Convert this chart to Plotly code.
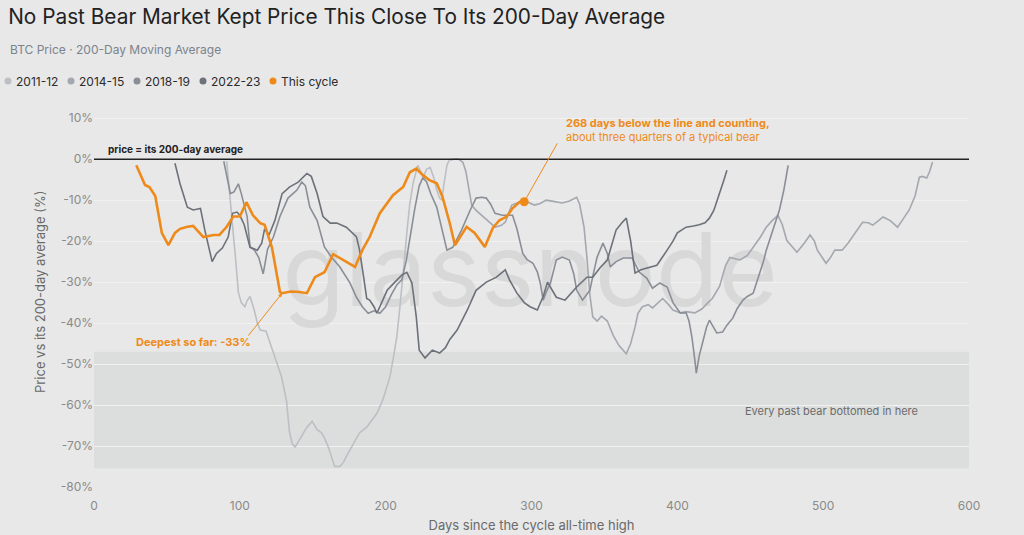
import plotly.graph_objects as go

# days since the cycle ATH and distance of price from its 200-day average (%)
days_2011 = [91, 93, 95, 97, 99, 101, 103.5, 105, 107, 110, 112, 114, 118, 120, 122.5, 125,
             128.5, 130, 132, 134, 136, 138, 141, 144, 146, 149.6, 153, 156, 158, 160.6, 163,
             165, 168.6, 171, 173, 177.7, 182, 187, 191, 194, 198, 201, 203, 205.5, 207.6,
             209.5, 211, 213, 214.5, 216.5, 218.8, 221, 222, 224, 226, 228, 230.5, 233, 235,
             237, 238.5, 240, 242, 243.5]
vals_2011 = [-0.5, -8, -16, -24, -32.5, -35, -36, -34.5, -33.5, -37, -40, -41.7, -42, -44, -46.6,
             -49.5, -53, -55.5, -59, -66.5, -69.5, -70.2, -68.5, -66.5, -65.4, -64, -66, -66.8,
             -68, -70.2, -73, -75, -75, -74, -72.6, -69.4, -66.8, -65.4, -63.5, -62, -58.8, -55.5,
             -53, -48, -43.4, -37, -32, -24, -18, -11, -5.9, -2.5, -1.5, -3, -4.2, -2.5, -2,
             -4.5, -7.5, -9.5, -10, -6, -1.5, -0.3]

days_2014 = [244, 247, 250, 253, 255, 257, 259, 262, 266, 270, 275, 279, 282, 286.5, 292, 295,
             298, 302, 306, 310, 315, 321, 326, 331, 333, 336, 338, 340, 342, 345, 348, 352, 356,
             360, 365, 368, 371, 373, 376, 380, 383, 387, 390, 394, 397, 402, 406, 412, 417, 421,
             424, 429, 433, 436, 440, 443, 448, 452, 457, 461, 465, 469, 472, 475, 479, 482, 487,
             491, 494, 496, 502, 505, 508, 513, 517, 520, 524, 527, 531, 534, 538, 541, 546, 551,
             555, 559, 563, 566, 568, 571, 573, 575]
vals_2014 = [-0.2, 0, 0, -0.8, -3, -7.5, -11.2, -12.5, -13.7, -15, -16.6, -16.2, -15.4, -11.2,
             -10.5, -10, -10.6, -11.2, -10.8, -10, -10.3, -10.7, -10.2, -9.3, -11, -16.5, -24,
             -33, -38.5, -39.5, -38.3, -39.5, -43, -45.5, -47.5, -45, -41, -37.6, -36, -35.5,
             -36.3, -35, -34, -35.5, -36.8, -37.5, -37.2, -37.5, -36.5, -35, -34, -31, -26, -24,
             -24.3, -24.6, -23.5, -21.5, -19, -16.6, -15, -13.7, -16, -19.8, -21.5, -22.7, -20.5,
             -18.5, -20, -22.2, -25.4, -24, -22.2, -22.2, -20.5, -19, -17, -15.4, -15.5, -16.1,
             -15, -14.1, -15, -16.6, -14.5, -12.4, -9, -4.4, -4.2, -4.6, -3, -0.7]

days_2018 = [89, 91, 93.5, 96, 99, 101, 103, 105, 107, 110, 113, 116, 119, 123, 127.5, 133, 139,
             142.5, 145, 148, 153, 158, 163, 168.6, 175.5, 180, 184, 188, 192, 196, 200, 204,
             208, 211, 214, 217, 220, 223, 225.5, 228, 231, 235, 239, 242, 246, 252, 258, 262,
             266, 269, 272, 275, 280, 287, 290, 294, 297, 301, 304, 306, 308, 310, 313, 317, 321,
             326, 329, 331, 335, 340, 343, 345, 349, 352, 354, 358, 363, 369, 374, 379, 383, 388,
             393, 397, 402, 406, 408, 410, 412, 413, 415, 417, 420, 422, 425, 427, 431, 434, 438,
             441, 445, 448, 452, 456, 459, 461, 464, 467, 470, 473, 476]
vals_2018 = [-0.5, -4, -8.4, -8, -6, -8.4, -11, -14, -21.4, -22.2, -24, -28, -22, -19, -14, -9.5,
             -7.6, -5.6, -6.5, -11.7, -15, -21.4, -24, -26.3, -30.2, -33.7, -36, -37.6, -37,
             -37.6, -36, -33, -30.5, -29.5, -25, -18, -12, -6.5, -4.5, -5.5, -8.5, -11.7, -18,
             -22.2, -21.5, -17.3, -12.4, -9.5, -9.3, -9.5, -11, -13.2, -13.7, -13.7, -17, -23,
             -24.5, -25.4, -27.5, -30.2, -34.4, -32.5, -30.2, -24.6, -23.9, -24.6, -28, -32,
             -34.4, -32, -27, -23.9, -20.5, -23, -26.3, -25, -24.1, -24.1, -27.6, -29, -31.5,
             -30.2, -31.2, -35, -37.5, -37.5, -39.5, -43.4, -49, -52.2, -48, -44.9, -41, -39.3,
             -41, -42.4, -42.2, -40.5, -38.8, -36.5, -34.4, -33.5, -32.7, -28.3, -25, -22.2, -19,
             -16.1, -12.4, -7.6, -1.5]

days_2022 = [55.5, 59, 64, 68, 73, 76, 81, 84, 88, 92, 95, 98, 100, 103, 107, 112, 115, 117,
             120, 124, 129, 134, 140, 146, 149, 153, 157, 162, 166.5, 173, 180, 182, 185, 187,
             189, 192, 194, 197, 201, 205, 208, 211, 214.5, 218, 221, 223, 227, 232, 237, 241,
             244, 249, 256, 262, 269, 276, 282, 285, 290, 295, 299, 304, 308, 311, 317, 323,
             331, 338, 342, 347, 352, 355, 358, 362, 365, 368, 371, 375, 379, 386, 393, 397,
             400, 406, 411, 415, 419, 422, 425, 427, 429, 432, 434]
vals_2022 = [-1, -6, -11.7, -12.4, -12, -17.3, -25, -23, -21.7, -19, -13.2, -12.9, -13.7, -16,
             -21.5, -22.2, -20.5, -17, -18.5, -15, -8.4, -6.8, -5.6, -3.5, -4.2, -8.4, -14,
             -15.6, -15.6, -16.6, -19, -22, -29, -34, -34.4, -36, -37.6, -35, -32, -30.5, -29.5,
             -28.3, -27.6, -30.2, -38.5, -46.6, -48.5, -46.6, -47.3, -46, -44, -41.7, -36.8, -32,
             -30, -28.8, -27, -29.5, -32.7, -35, -36, -36.8, -33.5, -30, -33.7, -34.4, -31.2,
             -28.8, -28.8, -26.5, -24.6, -21, -17.3, -15.5, -14.4, -20, -27.8, -27, -26.6, -25.9,
             -22.2, -20, -18, -16.6, -16.3, -16, -15.5, -14.4, -12.5, -10.5, -8.3, -5, -2.7]

days_now = [29, 32, 35, 38, 42, 46.5, 51, 55.5, 59, 64, 68, 75, 82, 86, 91, 95.5, 100, 104.5,
            109, 114, 117, 122, 127.5, 129, 135, 141, 146, 151.5, 158, 164, 171, 179, 184, 189,
            196, 201, 205, 212, 216.6, 221, 225.5, 230, 235, 239, 244, 247.5, 251, 255.5, 261,
            268, 273.5, 278, 283, 287, 292, 295]
vals_now = [-1.5, -4, -6.3, -6.8, -9, -18, -21, -18, -17, -16.5, -16.3, -19, -18.5, -18.5, -16.5,
            -14, -14, -10.5, -13.7, -15.6, -16, -21.5, -32.4, -32.7, -32.3, -32.4, -32.7, -28.8,
            -27.6, -23.2, -24.6, -26.3, -22.2, -19, -13.2, -10.8, -8.8, -6.8, -3.2, -2.3, -3.9,
            -5.1, -5.9, -9.2, -15.7, -21, -19, -16.5, -18, -21.4, -16.8, -14.9, -14, -12, -10.4,
            -10.4]

series_names = ["2011-12", "2014-15", "2018-19", "2022-23"]
series_colors = ["#bcbfc4", "#a4a8af", "#8a8f97", "#6c717a"]
ORANGE = "#ee8a1a"

tick_vals = [10, 0, -10, -20, -30, -40, -50, -60, -70, -80]
tick_text = ["10%", "0%", "-10%", "-20%", "-30%", "-40%", "-50%", "-60%", "-70%", "-80%"]

# legend row, centre of each dot in pixels from the page edge
legend_px = [8, 71, 137, 203, 273]

fig = go.Figure()

# watermark, drawn first so the lines sit on top of it
fig.add_trace(go.Scatter(x=[299], y=[-29.5], mode="text", text=["glassnode"],
                         textfont=dict(family="Inter", size=102, color="#d8d8d8"),
                         hoverinfo="skip", showlegend=False))

gray_data = [(days_2011, vals_2011), (days_2014, vals_2014),
             (days_2018, vals_2018), (days_2022, vals_2022)]
for name, color, (xs, ys) in zip(series_names, series_colors, gray_data):
    fig.add_trace(go.Scatter(x=xs, y=ys, mode="lines", name=name,
                             line=dict(color=color, width=1.6)))

fig.add_trace(go.Scatter(x=days_now, y=vals_now, mode="lines", name="This cycle",
                         line=dict(color=ORANGE, width=2.6)))
fig.add_trace(go.Scatter(x=[days_now[-1]], y=[vals_now[-1]], mode="markers",
                         marker=dict(color=ORANGE, size=9)))

# bottom zone and the zero line
fig.add_shape(type="rect", x0=0, x1=600, y0=-75.5, y1=-47, fillcolor="#dcdddd",
              line_width=0, layer="below")
fig.add_shape(type="line", x0=0, x1=600, y0=0, y1=0, line=dict(color="#222222", width=1.5))

# legend drawn by hand: small dot then label
PLOT_L, PLOT_W, PLOT_B, PLOT_H = 94, 875, 487, 377
for px, name, color in zip(legend_px, series_names + ["This cycle"], series_colors + [ORANGE]):
    xp = (px - PLOT_L) / PLOT_W
    yp = (PLOT_B - 81) / PLOT_H
    fig.add_shape(type="circle", xref="paper", yref="paper", xsizemode="pixel",
                  ysizemode="pixel", xanchor=xp, yanchor=yp, x0=-3.5, x1=3.5, y0=-3.5, y1=3.5,
                  fillcolor=color, line_width=0)
    fig.add_annotation(xref="paper", yref="paper", x=(px + 6 - PLOT_L) / PLOT_W, y=yp,
                       xanchor="left", yanchor="middle", text=name, showarrow=False,
                       font=dict(size=12, color="#2b2b2b"))

fig.add_annotation(x=8, y=0, yshift=10, text="<b>price = its 200-day average</b>",
                   showarrow=False, xanchor="left", font=dict(size=10, color="#222222"))
fig.add_annotation(x=506, y=-61.5, text="Every past bear bottomed in here", showarrow=False,
                   font=dict(size=11, color="#6b6b6b"))

# deepest point callout
fig.add_annotation(x=68, y=-44.5, text="<b>Deepest so far: -33%</b>", showarrow=False,
                   font=dict(size=11, color=ORANGE))
fig.add_annotation(x=129, y=-32.7, ax=-35, ay=44, text="", showarrow=True, arrowhead=2,
                   arrowsize=0.8, arrowwidth=1, arrowcolor=ORANGE)

# latest point callout
fig.add_annotation(x=322, y=7, xanchor="left", align="left", showarrow=False,
                   text="<b>268 days below the line and counting,</b><br>"
                        "about three quarters of a typical bear",
                   font=dict(size=11, color=ORANGE))
fig.add_annotation(x=295, y=-10.4, ax=34, ay=-60, text="", showarrow=True, arrowhead=0,
                   arrowwidth=1, arrowcolor=ORANGE)

fig.add_annotation(xref="paper", yref="paper", x=(8 - PLOT_L) / PLOT_W,
                   y=(PLOT_B - 49) / PLOT_H, xanchor="left", yanchor="middle",
                   text="BTC Price · 200-Day Moving Average", showarrow=False,
                   font=dict(size=12, color="#7b838d"))

# y-axis title placed by hand
fig.add_annotation(xref="paper", yref="paper", x=(40 - PLOT_L) / PLOT_W, y=0.517,
                   xanchor="center", yanchor="middle", textangle=-90,
                   text="Price vs its 200-day average (%)", showarrow=False,
                   font=dict(size=13, color="#6a6a6a"))

fig.update_layout(
    width=1024, height=535,
    margin=dict(l=94, r=55, t=110, b=48),
    paper_bgcolor="#e8e8e8", plot_bgcolor="#e8e8e8",
    font=dict(family="Inter", color="#333333"),
    showlegend=False,
    title=dict(text="No Past Bear Market Kept Price This Close To Its 200-Day Average",
               xref="container", yref="container", x=0.008, y=0.968,
               xanchor="left", yanchor="middle", font=dict(size=20.8, color="#222222")),
    xaxis=dict(range=[0, 600], dtick=100, showgrid=False, zeroline=False, automargin=False,
               tickfont=dict(size=12, color="#8a8a8a"), ticklabelstandoff=10,
               title=dict(text="Days since the cycle all-time high",
                          font=dict(size=13, color="#6a6a6a"), standoff=8)),
    yaxis=dict(range=[-80, 12], tickvals=tick_vals, ticktext=tick_text, showgrid=True,
               gridcolor="#f1f1f1", gridwidth=1, zeroline=False, automargin=False,
               tickfont=dict(size=12, color="#8a8a8a")),
    hovermode=False,
)

fig.write_html("out.html", config={"displayModeBar": False},
               post_script="document.body.style.margin = '0';")
